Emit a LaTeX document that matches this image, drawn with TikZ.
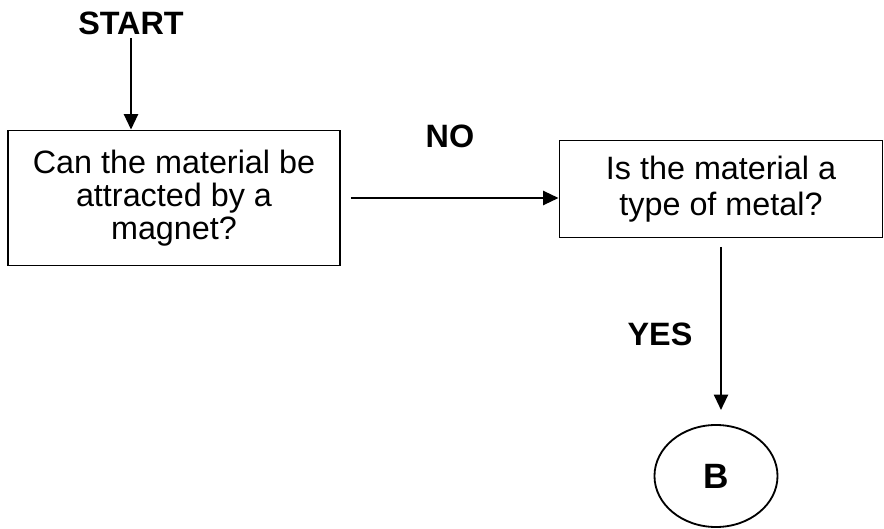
\documentclass[tikz,border=0pt]{standalone}
\usepackage{fontspec}
\setmainfont{Liberation Sans}
\usetikzlibrary{arrows.meta,shapes.geometric}

\begin{document}
\begin{tikzpicture}[x=0.025cm, y=0.025cm, >={Triangle[length=11pt,width=10pt]}, line width=1.6pt,
  every node/.style={font=\fontsize{23}{26}\selectfont},
  flowtag/.style={font=\fontsize{23}{26}\selectfont\bfseries, inner sep=2pt},
  question/.style={draw, line width=1.3pt, align=center}]
  \useasboundingbox (0,0) rectangle (884,528);

  % question boxes
  \node[question, minimum width=8.3cm, minimum height=3.375cm,
        font=\fontsize{23}{23.5}\selectfont] (can) at (174,330)
        {Can the material be\\attracted by a\\magnet?};
  \node[question, minimum width=8.075cm, minimum height=2.425cm] (metal) at (721,339)
        {Is the material a\\type of metal?};

  % start and connector circle
  \node[flowtag] (start) at (131,505) {START};
  \node[draw, line width=1.3pt, ellipse, minimum width=3.075cm, minimum height=2.55cm,
        font=\fontsize{25}{27}\selectfont\bfseries] (b) at (716,52) {B};

  % START -> first question
  \draw[->] (start.south) -- (start.south |- can.north);

  % NO branch
  \draw[->, shorten <=7pt] (can.east) -- (can.east -| metal.west);
  \node[flowtag] (no) at (450,392) {NO};

  % YES branch
  \draw[->, shorten <=6pt, shorten >=10pt] (metal.south) -- (metal.south |- b.north);
  \node[flowtag] (yes) at (660,194) {YES};
\end{tikzpicture}
\end{document}
